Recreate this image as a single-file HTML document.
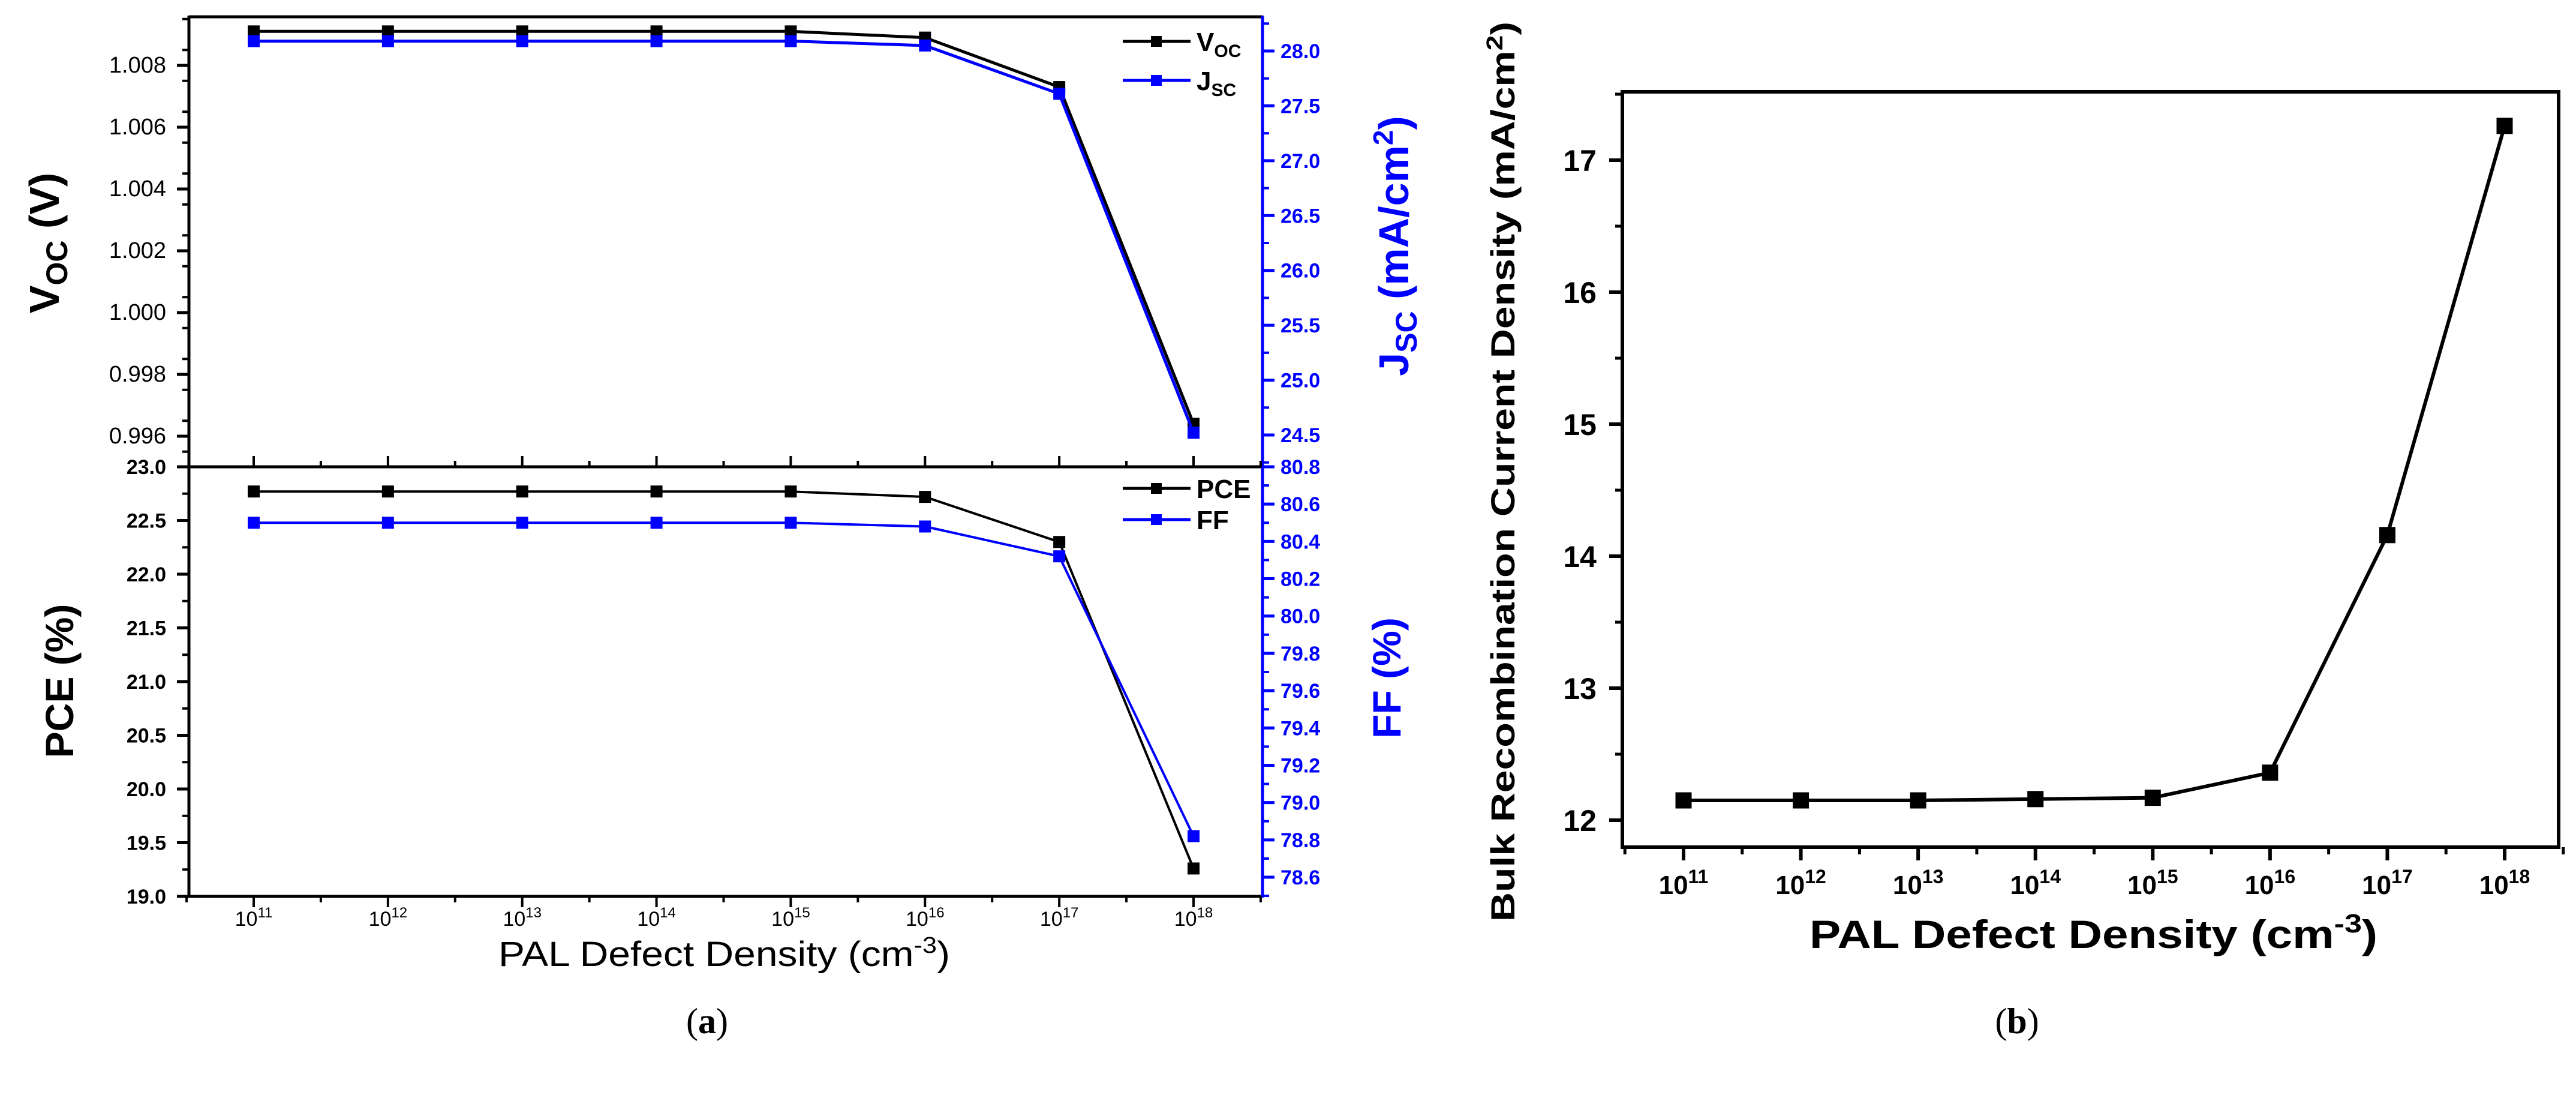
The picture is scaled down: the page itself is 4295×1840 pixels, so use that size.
<!DOCTYPE html>
<html><head><meta charset="utf-8"><style>
html,body{margin:0;padding:0;background:#fff;}
svg{display:block;}
text{font-family:"Liberation Sans",Arial,sans-serif;}
</style></head><body>
<svg id="fig" xmlns="http://www.w3.org/2000/svg" width="4295" height="1840" viewBox="0 0 4295 1840">
<rect x="0" y="0" width="4295" height="1840" fill="#fff"/>
<g id="pa"></g>
<g id="pb"></g>
</svg>
<script>
const categories = [11, 12, 13, 14, 15, 16, 17, 18];
const vocValues = [1.0091, 1.0091, 1.0091, 1.0091, 1.0091, 1.0089, 1.0073, 0.9964];
const jscValues = [28.09, 28.09, 28.09, 28.09, 28.09, 28.05, 27.61, 24.52];
const pceValues = [22.77, 22.77, 22.77, 22.77, 22.77, 22.72, 22.30, 19.26];
const ffValues = [80.50, 80.50, 80.50, 80.50, 80.50, 80.48, 80.32, 78.82];
const bulkValues = [12.15, 12.15, 12.15, 12.16, 12.17, 12.36, 14.16, 17.26];
const vocTicks = [0.996, 0.998, 1.000, 1.002, 1.004, 1.006, 1.008];
const jscTicks = [24.5, 25.0, 25.5, 26.0, 26.5, 27.0, 27.5, 28.0];
const pceTicks = [19.0, 19.5, 20.0, 20.5, 21.0, 21.5, 22.0, 22.5, 23.0];
const ffTicks = [78.6, 78.8, 79.0, 79.2, 79.4, 79.6, 79.8, 80.0, 80.2, 80.4, 80.6, 80.8];
const bulkTicks = [12, 13, 14, 15, 16, 17];

const NS = "http://www.w3.org/2000/svg";
function mk(parent, tag, attrs, txt) {
  const e = document.createElementNS(NS, tag);
  for (const k in attrs) e.setAttribute(k, attrs[k]);
  if (txt !== undefined) e.textContent = txt;
  parent.appendChild(e);
  return e;
}
function lin(d0, d1, r0, r1) { return v => r0 + (v - d0) / (d1 - d0) * (r1 - r0); }

const pa = document.getElementById('pa');
const pb = document.getElementById('pb');

/* ---------- Panel A ---------- */
const AL = 315, AR = 2105, AT = 28, AM = 778, AB = 1494;
const ax = lin(11, 18, 423, 1990);
const yVoc = lin(1.008, 0.996, 109, 727);
const yJsc = lin(28.0, 24.5, 85, 725);
const yPce = lin(23.0, 19.0, AM, AB);
const yFF = lin(80.8, 78.6, AM, 1462);

function drawSeries(g, xs, vals, xf, yf, color, size, width, name) {
  const sg = mk(g, 'g', {});
  
  
  const pts = vals.map((v, i) => xf(xs[i]).toFixed(1) + ',' + yf(v).toFixed(1)).join(' ');
  const pl = mk(sg, 'polyline', {points: pts, fill: 'none', stroke: color, 'stroke-width': width, 'stroke-linejoin': 'round'});
  
  
  vals.forEach((v, i) => {
    const r = mk(sg, 'rect', {x: xf(xs[i]) - size / 2, y: yf(v) - size / 2, width: size, height: size, fill: color});
    
    
  });
}

function yAxisTicks(g, ticks, yf, x, dir, color, lblX, anchor, fontCss, minorStep, lo, hi, name) {
  const tg = mk(g, 'g', {});
  
  
  const dec = (String(ticks[1]).split('.')[1] || '').length;
  ticks.forEach(t => {
    const y = yf(t);
    mk(tg, 'line', {x1: x, y1: y, x2: x + dir * 20, y2: y, stroke: color, 'stroke-width': 5});
    const tx = mk(tg, 'text', {x: lblX, y: y + 12, 'text-anchor': anchor, fill: color, style: fontCss}, t.toFixed(Math.max(dec, 1)));
    
    
  });
  if (minorStep) {
    for (let v = lo; v <= hi + 1e-9; v += minorStep) {
      const y = yf(v);
      if (ticks.some(t => Math.abs(t - v) < minorStep / 10)) continue;
      mk(tg, 'line', {x1: x, y1: y, x2: x + dir * 11, y2: y, stroke: color, 'stroke-width': 4});
    }
  }
}

mk(pa, 'line', {x1: AL, y1: AT, x2: AR, y2: AT, stroke: '#000', 'stroke-width': 5});
mk(pa, 'line', {x1: AL, y1: AM, x2: AR, y2: AM, stroke: '#000', 'stroke-width': 5});
mk(pa, 'line', {x1: AL, y1: AB, x2: AR, y2: AB, stroke: '#000', 'stroke-width': 5});
mk(pa, 'line', {x1: AL, y1: AT - 2, x2: AL, y2: AB + 2, stroke: '#000', 'stroke-width': 5});
mk(pa, 'line', {x1: AR, y1: AT - 2, x2: AR, y2: AB + 2, stroke: '#0000ff', 'stroke-width': 5});

const narrow = 'font-family:"Liberation Sans Narrow","Liberation Sans",sans-serif;font-size:38px;';
const boldA = 'font-size:34px;font-weight:bold;';
yAxisTicks(pa, vocTicks, yVoc, AL, -1, '#000', 277, 'end', narrow, 0.001, 0.9955, 1.0095, 'voc-axis');
yAxisTicks(pa, jscTicks, yJsc, AR, 1, '#0000ff', 2135, 'start', boldA + 'fill:#0000ff', 0.25, 24.25, 28.25, 'jsc-axis');
yAxisTicks(pa, pceTicks, yPce, AL, -1, '#000', 277, 'end', boldA, 0.25, 19.0, 23.0, 'pce-axis');
yAxisTicks(pa, ffTicks, yFF, AR, 1, '#0000ff', 2135, 'start', boldA + 'fill:#0000ff', 0.1, 78.5, 80.8, 'ff-axis');

const xtg = mk(pa, 'g', {});


categories.forEach(c => {
  const x = ax(c);
  mk(xtg, 'line', {x1: x, y1: AM, x2: x, y2: AM - 18, stroke: '#000', 'stroke-width': 4});
  mk(xtg, 'line', {x1: x, y1: AB, x2: x, y2: AB + 18, stroke: '#000', 'stroke-width': 4});
  const xm = ax(c + 0.5);
  mk(xtg, 'line', {x1: xm, y1: AM, x2: xm, y2: AM - 10, stroke: '#000', 'stroke-width': 4});
  mk(xtg, 'line', {x1: xm, y1: AB, x2: xm, y2: AB + 10, stroke: '#000', 'stroke-width': 4});
  const lb = mk(xtg, 'text', {x: x, y: 1543, 'text-anchor': 'middle', style: 'font-family:"Liberation Sans Narrow","Liberation Sans",sans-serif;font-size:34px;'});
  
  
  mk(lb, 'tspan', {}, '10');
  mk(lb, 'tspan', {dy: -14, 'font-size': '24px'}, String(c));
});
mk(xtg, 'line', {x1: ax(10.5), y1: AB, x2: ax(10.5), y2: AB + 10, stroke: '#000', 'stroke-width': 4});

drawSeries(pa, categories, vocValues, ax, yVoc, '#000', 20, 5, 'voc-series');
drawSeries(pa, categories, jscValues, ax, yJsc, '#0000ff', 20, 5, 'jsc-series');
drawSeries(pa, categories, pceValues, ax, yPce, '#000', 20, 4, 'pce-series');
drawSeries(pa, categories, ffValues, ax, yFF, '#0000ff', 20, 4, 'ff-series');

function legend(g, x, y, color, label, sub, name) {
  const lg = mk(g, 'g', {});
  
  
  mk(lg, 'line', {x1: x, y1: y, x2: x + 113, y2: y, stroke: color, 'stroke-width': 5});
  mk(lg, 'rect', {x: x + 47, y: y - 9, width: 18, height: 18, fill: color});
  const tt = mk(lg, 'text', {x: x + 123, y: y + 16, style: 'font-size:44px;font-weight:bold;'});
  mk(tt, 'tspan', {}, label);
  if (sub) mk(tt, 'tspan', {dy: 10, 'font-size': '30px'}, sub);
}
legend(pa, 1872, 69, '#000', 'V', 'OC', 'legend-voc');
legend(pa, 1872, 134, '#0000ff', 'J', 'SC', 'legend-jsc');
legend(pa, 1872, 814, '#000', 'PCE', '', 'legend-pce');
legend(pa, 1872, 866, '#0000ff', 'FF', '', 'legend-ff');

let t;
t = mk(pa, 'text', {transform: 'translate(98,405) rotate(-90)', 'text-anchor': 'middle', style: 'font-size:70px;font-weight:bold;'});
 
mk(t, 'tspan', {}, 'V'); mk(t, 'tspan', {dy: 14, 'font-size': '50px'}, 'OC'); mk(t, 'tspan', {dy: -14}, ' (V)');
t = mk(pa, 'text', {transform: 'translate(122,1135) rotate(-90)', 'text-anchor': 'middle', style: 'font-size:66px;font-weight:bold;'}, 'PCE (%)');
 
t = mk(pa, 'text', {transform: 'translate(2348,410) rotate(-90)', 'text-anchor': 'middle', style: 'font-size:70px;font-weight:bold;fill:#0000ff;'});
 
mk(t, 'tspan', {}, 'J'); mk(t, 'tspan', {dy: 14, 'font-size': '50px'}, 'SC'); mk(t, 'tspan', {dy: -14}, ' (mA/cm');
mk(t, 'tspan', {dy: -26, 'font-size': '46px'}, '2'); mk(t, 'tspan', {dy: 26}, ')');
t = mk(pa, 'text', {transform: 'translate(2335,1130) rotate(-90)', 'text-anchor': 'middle', style: 'font-size:66px;font-weight:bold;fill:#0000ff;'}, 'FF (%)');
 
t = mk(pa, 'text', {x: 831, y: 1610, textLength: 753, lengthAdjust: 'spacingAndGlyphs', style: 'font-size:58px;'});
 
mk(t, 'tspan', {}, 'PAL Defect Density (cm'); mk(t, 'tspan', {dy: -22, 'font-size': '38px'}, '-3'); mk(t, 'tspan', {dy: 22}, ')');
t = mk(pa, 'text', {x: 1179, y: 1722, 'text-anchor': 'middle', style: 'font-family:"Liberation Serif",serif;font-size:60px;'});
 
mk(t, 'tspan', {}, '('); mk(t, 'tspan', {'font-weight': 'bold'}, 'a'); mk(t, 'tspan', {}, ')');

/* ---------- Panel B ---------- */
const BL = 2705, BR = 4266, BT = 153, BB = 1412;
const bx = lin(11, 18, 2807, 4176);
const by = lin(17, 12, 267, 1367);
mk(pb, 'rect', {x: BL, y: BT, width: BR - BL, height: BB - BT, fill: 'none', stroke: '#000', 'stroke-width': 6});
const btg = mk(pb, 'g', {});


bulkTicks.forEach(v => {
  const y = by(v);
  mk(btg, 'line', {x1: BL, y1: y, x2: BL - 22, y2: y, stroke: '#000', 'stroke-width': 6});
  const l = mk(btg, 'text', {x: 2662, y: y + 18, 'text-anchor': 'end', style: 'font-size:50px;font-weight:bold;'}, String(v));
  
  
  const ym = by(v + 0.5);
  if (ym > BT) mk(btg, 'line', {x1: BL, y1: ym, x2: BL - 12, y2: ym, stroke: '#000', 'stroke-width': 5});
  const ym2 = by(v - 0.5);
  if (v === 12 && ym2 < BB) mk(btg, 'line', {x1: BL, y1: ym2, x2: BL - 12, y2: ym2, stroke: '#000', 'stroke-width': 5});
});
const bxg = mk(pb, 'g', {});


categories.forEach(c => {
  const x = bx(c);
  mk(bxg, 'line', {x1: x, y1: BB, x2: x, y2: BB + 22, stroke: '#000', 'stroke-width': 6});
  mk(bxg, 'line', {x1: bx(c - 0.5), y1: BB, x2: bx(c - 0.5), y2: BB + 12, stroke: '#000', 'stroke-width': 5});
  const l = mk(bxg, 'text', {x: x, y: 1490, 'text-anchor': 'middle', style: 'font-size:44px;font-weight:bold;'});
  
  
  mk(l, 'tspan', {}, '10'); mk(l, 'tspan', {dy: -18, 'font-size': '32px'}, String(c));
});
mk(bxg, 'line', {x1: bx(18.5), y1: BB, x2: bx(18.5), y2: BB + 12, stroke: '#000', 'stroke-width': 5});
drawSeries(pb, categories, bulkValues, bx, by, '#000', 27, 6, 'bulk-recombination-series');

t = mk(pb, 'text', {transform: 'translate(2525,786) rotate(-90)', x: -750, y: 0, textLength: 1500, lengthAdjust: 'spacingAndGlyphs', style: 'font-size:56px;font-weight:bold;'});
 
mk(t, 'tspan', {}, 'Bulk Recombination Current Density (mA/cm'); mk(t, 'tspan', {dy: -20, 'font-size': '38px'}, '2'); mk(t, 'tspan', {dy: 20}, ')');
t = mk(pb, 'text', {x: 3017, y: 1580, textLength: 947, lengthAdjust: 'spacingAndGlyphs', style: 'font-size:66px;font-weight:bold;'});
 
mk(t, 'tspan', {}, 'PAL Defect Density (cm'); mk(t, 'tspan', {dy: -26, 'font-size': '44px'}, '-3'); mk(t, 'tspan', {dy: 26}, ')');
t = mk(pb, 'text', {x: 3363, y: 1722, 'text-anchor': 'middle', style: 'font-family:"Liberation Serif",serif;font-size:60px;'});
 
mk(t, 'tspan', {}, '('); mk(t, 'tspan', {'font-weight': 'bold'}, 'b'); mk(t, 'tspan', {}, ')');
</script>
</body></html>
